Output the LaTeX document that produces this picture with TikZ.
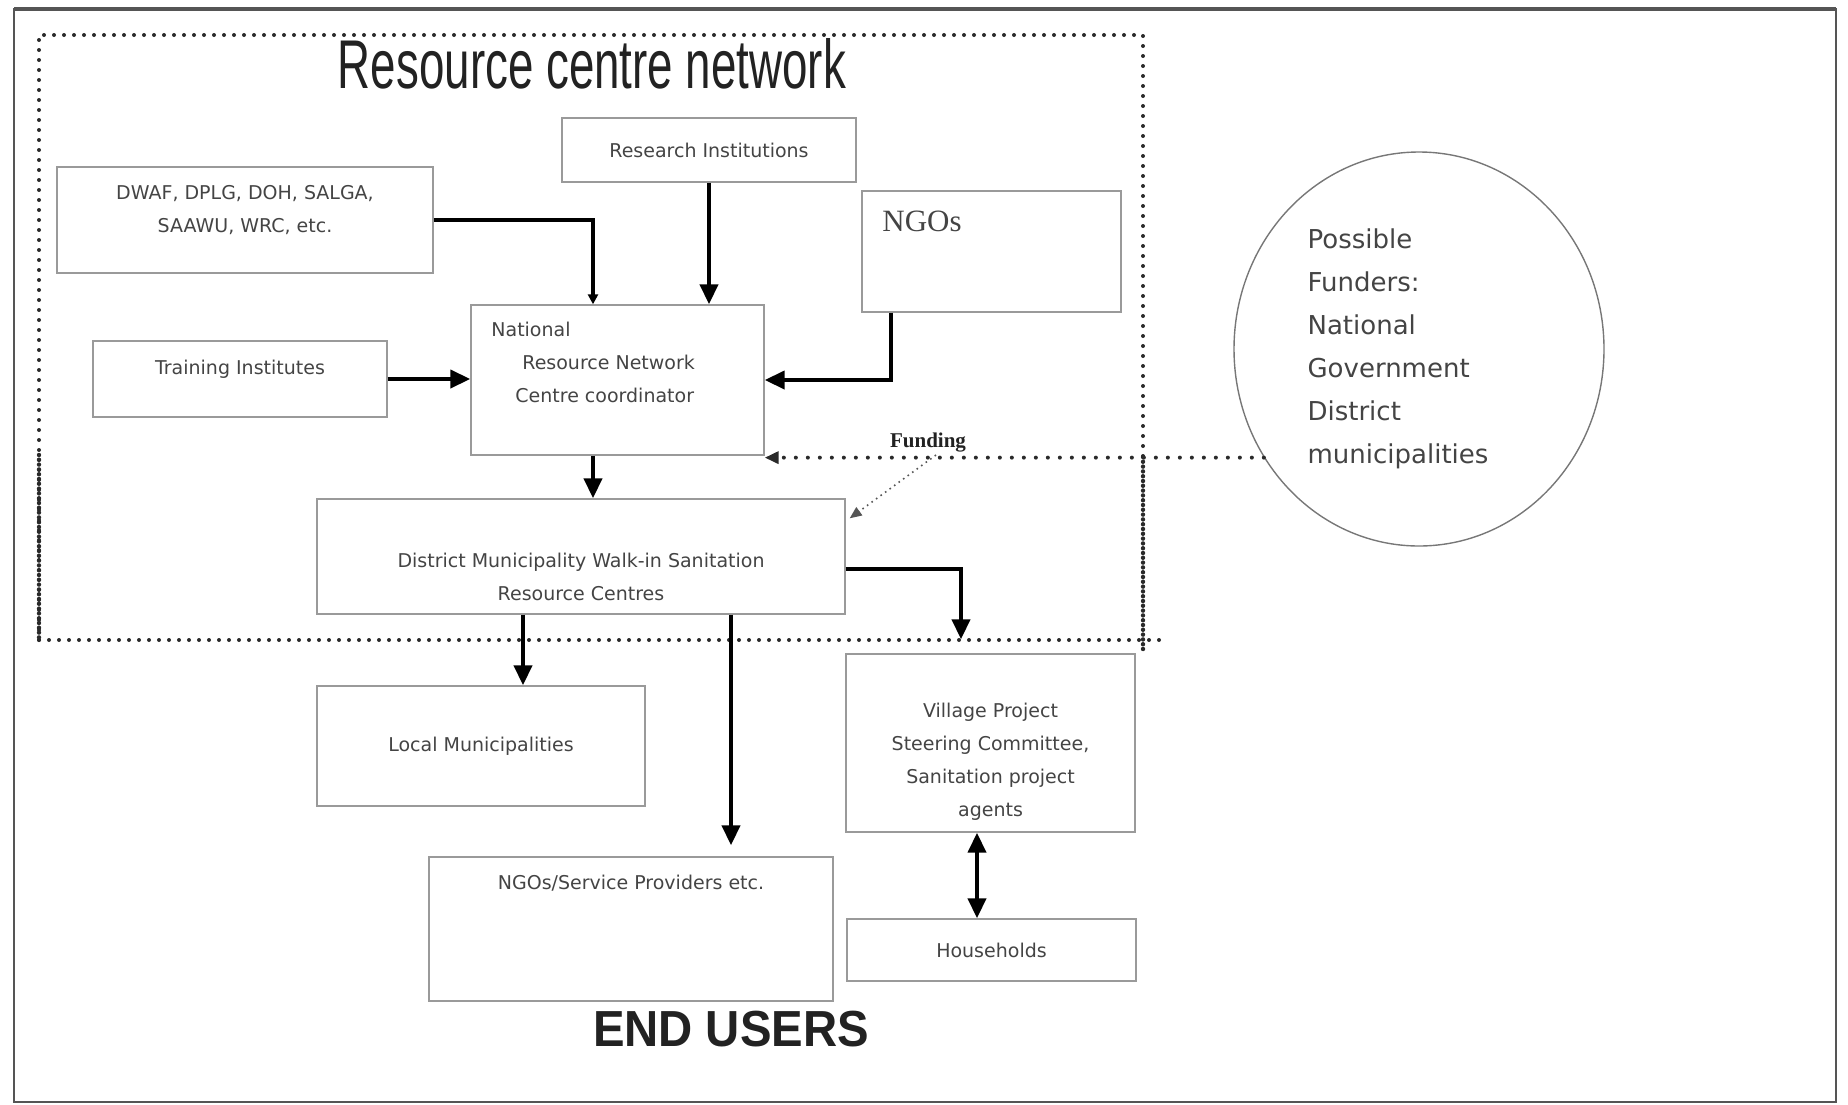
\documentclass[tikz,border=0pt]{standalone}
\usepackage{fontspec}
\usepackage{xcolor}
\usepackage{tikz}
\usetikzlibrary{shapes.geometric,arrows.meta,positioning}
\newfontfamily\boxfont{DejaVu Sans}
\newfontfamily\serfont{Liberation Serif}
\newfontfamily\headfont{Liberation Sans}
\definecolor{cFrame}{HTML}{555555}
\definecolor{cLine}{HTML}{9A9A9A}
\definecolor{cText}{HTML}{444444}
\definecolor{cDot}{HTML}{2A2A2A}
\definecolor{cHead}{HTML}{222222}
\tikzset{
  box/.style   = {rectangle, draw=cLine, line width=0.7pt, inner sep=0pt},
  txt/.style   = {font=\boxfont\fontsize{9.5}{16.5}\selectfont, text=cText,
                  align=center, inner sep=0pt},
  arr/.style   = {-{Triangle[length=10pt,width=9pt]}, line width=2pt, draw=black},
  arrsm/.style = {-{Triangle[length=5pt,width=5pt]}, line width=2pt, draw=black},
  arrtwo/.style= {{Triangle[length=10pt,width=9pt]}-{Triangle[length=10pt,width=9pt]},
                  line width=2pt, draw=black},
  rcn/.style   = {draw=cDot, line width=2pt, line cap=round, dash pattern=on 0pt off 5pt},
  rcndense/.style = {draw=cDot, line width=2.2pt, line cap=round, dash pattern=on 0pt off 2.4pt},
  fundln/.style= {draw=cDot, line width=2pt, line cap=round, dash pattern=on 0pt off 6pt,
                  -{Triangle[length=7pt,width=6pt]}},
  fundthin/.style = {draw=cDot!80, line width=0.8pt, dotted, -{Triangle[length=6pt,width=5pt]}},
}

\begin{document}
\begin{tikzpicture}[x=0.5pt, y=-0.5pt,
  head/.style={font=\headfont, text=cHead, inner sep=0pt},
  ]
  \useasboundingbox (0,0) rectangle (1848,1104);
  \draw[draw=cFrame, line width=1.3pt] (14,9) rectangle (1836,1102);
  \draw[draw=cFrame, line width=1.8pt] (14,9) -- (1836,9);

  \draw[rcn] (39,640) -- (39,35) -- (1143,35) -- (1143,457);
  \draw[rcn] (39,640) -- (1161,640);
  \draw[rcndense] (39,455) -- (39,640);
  \draw[rcndense] (1143,457) -- (1143,652);

  \node[head] (ttl) at (592,64) {\resizebox{254pt}{25pt}{Resource centre network}};

  \node[box, minimum width=147pt, minimum height=32pt] (res) at (709,150) {};
  \node[txt] (rest) at (res.center) {Research Institutions};
  \node[box, minimum width=188pt, minimum height=53pt] (dwaf) at (245,220) {};
  \node[txt] (dwaft) at ([yshift=5pt]dwaf.center) {DWAF, DPLG, DOH, SALGA,\\SAAWU, WRC, etc.};
  \node[box, minimum width=129.5pt, minimum height=60.5pt] (ngo) at (991.5,251.5) {};
  \node[anchor=west, inner sep=0pt, font=\serfont\fontsize{15.5}{16}\selectfont, text=cText] (ngot) at (882,221) {NGOs};
  \node[box, minimum width=147pt, minimum height=38pt] (train) at (240,379) {};
  \node[txt] (traint) at ([yshift=5pt]train.center) {Training Institutes};
  \node[box, minimum width=146.5pt, minimum height=75pt] (nat) at (617.5,380) {};
  \node[txt, align=left, anchor=north west] (natt) at (491,322)
    {National\\\hspace*{15.5pt}Resource Network\\\hspace*{12pt}Centre coordinator};
  \node[box, minimum width=264pt, minimum height=57.5pt] (dist) at (581,556.5) {};
  \node[txt] (distt) at ([yshift=-10pt]dist.center) {District Municipality Walk-in Sanitation\\Resource Centres};
  \node[box, minimum width=164pt, minimum height=60pt] (loc) at (481,746) {};
  \node[txt] (loct) at (loc.center) {Local Municipalities};
  \node[box, minimum width=144.5pt, minimum height=89pt] (vil) at (990.5,743) {};
  \node[txt] (vilt) at ([yshift=-9.5pt]vil.center) {Village Project\\Steering Committee,\\Sanitation project\\agents};
  \node[box, minimum width=202pt, minimum height=72pt] (nsp) at (631,929) {};
  \node[txt] (nspt) at (631,883) {NGOs/Service Providers etc.};
  \node[box, minimum width=144.5pt, minimum height=31pt] (hh) at (991.5,950) {};
  \node[txt] (hht) at (hh.center) {Households};

  \node[ellipse, draw=cFrame!80, line width=0.7pt, minimum width=185pt, minimum height=197pt] (fund) at (1419,349) {};
  \node[txt, align=left, font=\boxfont\fontsize{13}{21.5}\selectfont] (fundt) at (1398,349)
    {Possible\\Funders:\\National\\Government\\District\\municipalities};

  \node[head] (endu) at (731,1029) {\resizebox{138pt}{17.7pt}{\bfseries END USERS}};

  \draw[arrsm] (dwaf.east) -| ([xshift=-12.25pt]nat.north);
  \draw[arr] (res.south) -- (res.south |- nat.north);
  \draw[arr] (train.east) -- (train.east -| nat.west);
  \draw[arr] ([xshift=-50.25pt]ngo.south) |- (nat.east);
  \draw[arr] ([xshift=-12.25pt]nat.south) -- ([xshift=-12.25pt]nat.south |- dist.north);

  \draw[fundln] (fund.215) -- (fund.215 -| nat.east);
  \node[font=\serfont\bfseries\fontsize{12.5}{12.5}\selectfont, text=cHead, inner sep=0pt] (fundl) at (928,443) {\resizebox{38pt}{!}{Funding}};
  \draw[fundthin] ([xshift=4pt,yshift=-1pt]fundl.south) -- ([xshift=2pt,yshift=-10pt]dist.north east);

  \draw[arr, shorten >=7pt] ([yshift=-6.25pt]dist.east) -| ([xshift=-14.75pt]vil.north);
  \draw[arr] ([xshift=21pt]loc.north |- dist.south) -- ([xshift=21pt]loc.north);
  \draw[arr, shorten >=5.5pt] ([xshift=50pt]nsp.north |- dist.south) -- ([xshift=50pt]nsp.north);
  \draw[arrtwo] ([xshift=-6.75pt]vil.south) -- ([xshift=-6.75pt]vil.south |- hh.north);
\end{tikzpicture}
\end{document}
